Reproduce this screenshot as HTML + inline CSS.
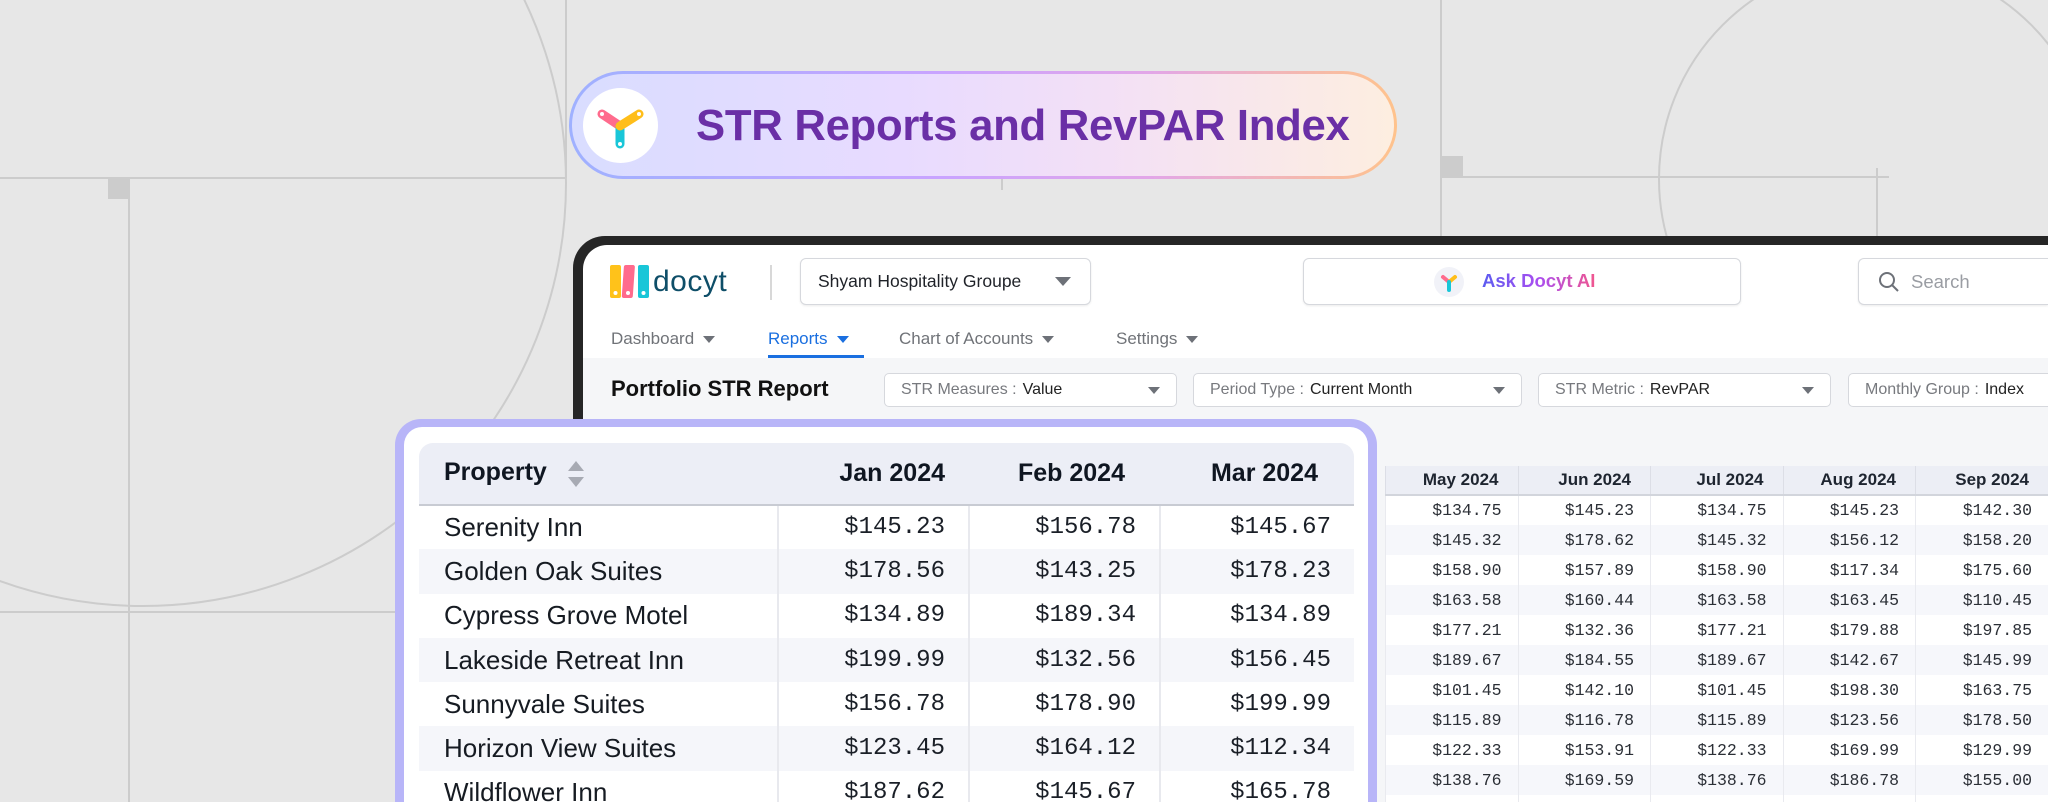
<!DOCTYPE html>
<html style="width:2048px;height:802px;overflow:hidden"><head><meta charset="utf-8">
<style>
*{margin:0;padding:0;box-sizing:border-box}
body{width:2048px;height:802px;overflow:hidden;background:#e7e7e7;font-family:"Liberation Sans",sans-serif}
#wrap{position:relative;width:2048px;height:802px;overflow:hidden;background:#e7e7e7}
.a{position:absolute}
.box{position:absolute;background:#fff;border:1.5px solid #d6d8dd;border-radius:6px;box-shadow:0 1px 2px rgba(0,0,0,.08)}
.nav{position:absolute;top:329px;font-size:17px;color:#707378}
.tri{display:inline-block;width:0;height:0;border-left:6px solid transparent;border-right:6px solid transparent;border-top:7px solid #6d7178;margin-left:9px;vertical-align:middle}
.flt{position:absolute;top:373px;height:34px;background:#fff;border:1.5px solid #d6d8dd;border-radius:5px;font-size:16px;color:#77797e;line-height:31px;padding-left:16px}
.flt b{font-weight:normal;color:#222;margin-left:6px}
.flt .tri{position:absolute;right:16px;top:13px;margin:0}
table{border-collapse:collapse;table-layout:fixed}
.clip{position:absolute;overflow:hidden}
.rt th{height:29px;background:#eceef5;font-size:17px;font-weight:bold;color:#1e2530;text-align:right;padding-right:19px;border-left:1.5px solid #dcdee6;border-bottom:2px solid #d2d5dc;width:132.5px}
.rt td{height:30px;font-family:"Liberation Mono",monospace;font-size:16.5px;color:#2b2f36;text-align:right;padding-right:16px;border-left:1.5px solid #e9eaef}
.rt tr:nth-child(odd) td{background:#f6f7fb}
.rt tr:nth-child(even) td{background:#fff}
.lt th{height:62px;background:#eceef6;font-size:25px;font-weight:bold;color:#0f1621;text-align:right;border-bottom:2px solid #c8cbd3}
.lt td{height:44.3px;font-family:"Liberation Mono",monospace;font-size:24px;color:#1a1f27;text-align:right;border-left:2px solid #e8e9ee;padding-right:23px}
.lt td:first-child{font-family:"Liberation Sans",sans-serif;font-size:26px;text-align:left;padding-left:25px;border-left:none;color:#161b22}
.lt tr:nth-child(odd) td{background:#f5f6fa}
.lt tr:nth-child(even) td{background:#fff}
</style></head><body><div id="wrap">
<svg class="a" style="left:0;top:0" width="2048" height="802">
<g stroke="#cccccc" stroke-width="2" fill="none">
<circle cx="143" cy="183" r="423"/>
<circle cx="1877" cy="179" r="218"/>
<line x1="0" y1="178" x2="566" y2="178"/>
<line x1="566" y1="0" x2="566" y2="178"/>
<line x1="129" y1="178" x2="129" y2="802"/>
<line x1="0" y1="612" x2="566" y2="612"/>
<line x1="1441" y1="0" x2="1441" y2="236"/>
<line x1="1441" y1="177" x2="1889" y2="177"/>
<line x1="1877" y1="168" x2="1877" y2="236"/>
<line x1="1002" y1="176" x2="1002" y2="190"/>
</g>
<rect x="108" y="179" width="21" height="20" fill="#cccccc"/>
<rect x="1442" y="156" width="21" height="21" fill="#cccccc"/>
</svg>

<div class="a" style="left:569px;top:71px;width:828px;height:108px;border-radius:54px;background:linear-gradient(90deg,#9fb1ff,#c9a4ff 45%,#e2a6e8 70%,#ffc38c);padding:3px">
<div style="width:100%;height:100%;border-radius:51px;background:linear-gradient(90deg,#d9ddff,#e8dbff 40%,#f3e0f6 65%,#fdeee0)"></div></div>
<div class="a" style="left:583px;top:88px;width:75px;height:75px;border-radius:50%;background:#fff"></div>
<svg class="a" style="left:583px;top:88px" width="75" height="75">
<line x1="19" y1="26" x2="37" y2="38" stroke="#ff6b8d" stroke-width="9" stroke-linecap="round"/>
<line x1="37" y1="38" x2="37" y2="56" stroke="#19c6d8" stroke-width="9" stroke-linecap="round"/>
<line x1="56" y1="26" x2="37" y2="38" stroke="#ffbe1a" stroke-width="9" stroke-linecap="round"/>
<circle cx="19" cy="26" r="2" fill="#fff"/><circle cx="56" cy="26" r="2" fill="#fff"/><circle cx="37" cy="56" r="2" fill="#fff"/>
</svg>
<div class="a" style="left:696px;top:98px;font-size:43.7px;font-weight:bold;color:#6a2fa6;letter-spacing:-0.3px;line-height:56px">STR Reports and RevPAR Index</div>

<div class="a" style="left:573px;top:236px;width:1475px;height:566px;background:#262626;border-radius:32px 0 0 0"></div>
<div class="a" style="left:583px;top:245px;width:1465px;height:557px;background:#fff;border-radius:24px 0 0 0;overflow:hidden">
<div class="a" style="left:0;top:113px;width:1465px;height:444px;background:#f5f6f8"></div>
</div>
<svg class="a" style="left:610px;top:265px" width="42" height="33">
<rect x="0" y="0" width="11" height="33" rx="2" fill="#ffc21a"/>
<rect x="14" y="0" width="11" height="33" rx="2" fill="#ff6b8d" transform="skewX(-4)"/>
<rect x="28" y="0" width="11" height="33" rx="2" fill="#19c6d8"/>
<circle cx="5.5" cy="28" r="2" fill="#fff"/><circle cx="18" cy="28" r="2" fill="#fff"/><circle cx="33.5" cy="28" r="2" fill="#fff"/>
</svg>
<div class="a" style="left:653px;top:266px;font-size:30px;color:#0e4e68;letter-spacing:0.5px;line-height:32px">docyt</div>
<div class="a" style="left:770px;top:265px;width:1.5px;height:35px;background:#d8d8d8"></div>
<div class="box" style="left:800px;top:258px;width:291px;height:47px"></div>
<div class="a" style="left:818px;top:271px;font-size:17.5px;color:#1f2228">Shyam Hospitality Groupe</div>
<div class="a" style="left:1055px;top:277px;border-left:8px solid transparent;border-right:8px solid transparent;border-top:9px solid #6d7178"></div>
<div class="box" style="left:1303px;top:258px;width:438px;height:47px"></div>
<svg class="a" style="left:1434px;top:267px" width="30" height="30"><circle cx="15" cy="15" r="15" fill="#f1f2f8"/>
<line x1="9" y1="10" x2="15" y2="15" stroke="#ff6b8d" stroke-width="4" stroke-linecap="round"/><line x1="21" y1="10" x2="15" y2="15" stroke="#ffbe1a" stroke-width="4" stroke-linecap="round"/><line x1="15" y1="15" x2="15" y2="23" stroke="#19c6d8" stroke-width="4" stroke-linecap="round"/></svg>
<div class="a" style="left:1482px;top:270px;font-size:18.5px;font-weight:bold;background:linear-gradient(90deg,#5b5cf0,#a94ef0,#f0568f);-webkit-background-clip:text;background-clip:text;color:transparent">Ask Docyt AI</div>
<div class="box" style="left:1858px;top:258px;width:190px;height:47px;border-right:none;border-radius:6px 0 0 6px"></div>
<svg class="a" style="left:1878px;top:271px" width="22" height="22"><circle cx="9" cy="9" r="7" stroke="#6d7178" stroke-width="2" fill="none"/><line x1="14" y1="14" x2="20" y2="20" stroke="#6d7178" stroke-width="2"/></svg>
<div class="a" style="left:1911px;top:271px;font-size:18.5px;color:#9a9da3">Search</div>
<div class="nav" style="left:611px">Dashboard<span class="tri"></span></div>
<div class="nav" style="left:768px;color:#1a6fe0">Reports<span class="tri" style="border-top-color:#1a6fe0"></span></div>
<div class="a" style="left:768px;top:355px;width:96px;height:3px;background:#1a6fe0"></div>
<div class="nav" style="left:899px">Chart of Accounts<span class="tri"></span></div>
<div class="nav" style="left:1116px">Settings<span class="tri"></span></div>
<div class="a" style="left:611px;top:376px;font-size:22px;font-weight:bold;color:#111">Portfolio STR Report</div>
<div class="flt" style="left:884px;width:293px">STR Measures :<b>Value</b><span class="tri"></span></div>
<div class="flt" style="left:1193px;width:329px">Period Type :<b>Current Month</b><span class="tri"></span></div>
<div class="flt" style="left:1538px;width:293px">STR Metric :<b>RevPAR</b><span class="tri"></span></div>
<div class="flt" style="left:1848px;width:200px;border-right:none;border-radius:5px 0 0 5px;white-space:nowrap;overflow:hidden">Monthly Group :<b>Index</b></div>

<div class="clip" style="left:1385px;top:466px;width:663px;height:336px">
<table class="rt">
<tr><th>May 2024</th><th>Jun 2024</th><th>Jul 2024</th><th>Aug 2024</th><th>Sep 2024</th></tr>
<tr><td>$134.75</td><td>$145.23</td><td>$134.75</td><td>$145.23</td><td>$142.30</td></tr>
<tr><td>$145.32</td><td>$178.62</td><td>$145.32</td><td>$156.12</td><td>$158.20</td></tr>
<tr><td>$158.90</td><td>$157.89</td><td>$158.90</td><td>$117.34</td><td>$175.60</td></tr>
<tr><td>$163.58</td><td>$160.44</td><td>$163.58</td><td>$163.45</td><td>$110.45</td></tr>
<tr><td>$177.21</td><td>$132.36</td><td>$177.21</td><td>$179.88</td><td>$197.85</td></tr>
<tr><td>$189.67</td><td>$184.55</td><td>$189.67</td><td>$142.67</td><td>$145.99</td></tr>
<tr><td>$101.45</td><td>$142.10</td><td>$101.45</td><td>$198.30</td><td>$163.75</td></tr>
<tr><td>$115.89</td><td>$116.78</td><td>$115.89</td><td>$123.56</td><td>$178.50</td></tr>
<tr><td>$122.33</td><td>$153.91</td><td>$122.33</td><td>$169.99</td><td>$129.99</td></tr>
<tr><td>$138.76</td><td>$169.59</td><td>$138.76</td><td>$186.78</td><td>$155.00</td></tr>
<tr><td>$150.00</td><td>$150.00</td><td>$150.00</td><td>$150.00</td><td>$150.00</td></tr>
</table></div>

<div class="a" style="left:395px;top:419px;width:982px;height:383px;background:#b8b5f8;border-radius:26px 26px 0 0"></div>
<div class="a" style="left:404px;top:427px;width:964px;height:375px;background:#fff;border-radius:18px 18px 0 0"></div>
<div class="a" style="left:419px;top:443px;width:935px;height:62px;background:#eceef6;border-radius:14px 14px 0 0"></div>
<div class="clip" style="left:419px;top:443px;width:935px;height:359px">
<table class="lt">
<colgroup><col style="width:359px"><col style="width:191px"><col style="width:191px"><col style="width:194px"></colgroup>
<tr><th style="text-align:left;padding-left:25px;background:transparent">Property <span style="display:inline-block;vertical-align:middle;margin-left:14px;position:relative;width:16px;height:30px"><span class="a" style="left:0;top:2px;border-left:8px solid transparent;border-right:8px solid transparent;border-bottom:10px solid #a7aab3"></span><span class="a" style="left:0;top:18px;border-left:8px solid transparent;border-right:8px solid transparent;border-top:10px solid #a7aab3"></span></span></th><th style="padding-right:24px;background:transparent">Jan 2024</th><th style="padding-right:35px;background:transparent">Feb 2024</th><th style="padding-right:36px;background:transparent">Mar 2024</th></tr>
<tr><td>Serenity Inn</td><td>$145.23</td><td>$156.78</td><td>$145.67</td></tr>
<tr><td>Golden Oak Suites</td><td>$178.56</td><td>$143.25</td><td>$178.23</td></tr>
<tr><td>Cypress Grove Motel</td><td>$134.89</td><td>$189.34</td><td>$134.89</td></tr>
<tr><td>Lakeside Retreat Inn</td><td>$199.99</td><td>$132.56</td><td>$156.45</td></tr>
<tr><td>Sunnyvale Suites</td><td>$156.78</td><td>$178.90</td><td>$199.99</td></tr>
<tr><td>Horizon View Suites</td><td>$123.45</td><td>$164.12</td><td>$112.34</td></tr>
<tr><td>Wildflower Inn</td><td>$187.62</td><td>$145.67</td><td>$165.78</td></tr>
</table></div>
</div></body></html>
